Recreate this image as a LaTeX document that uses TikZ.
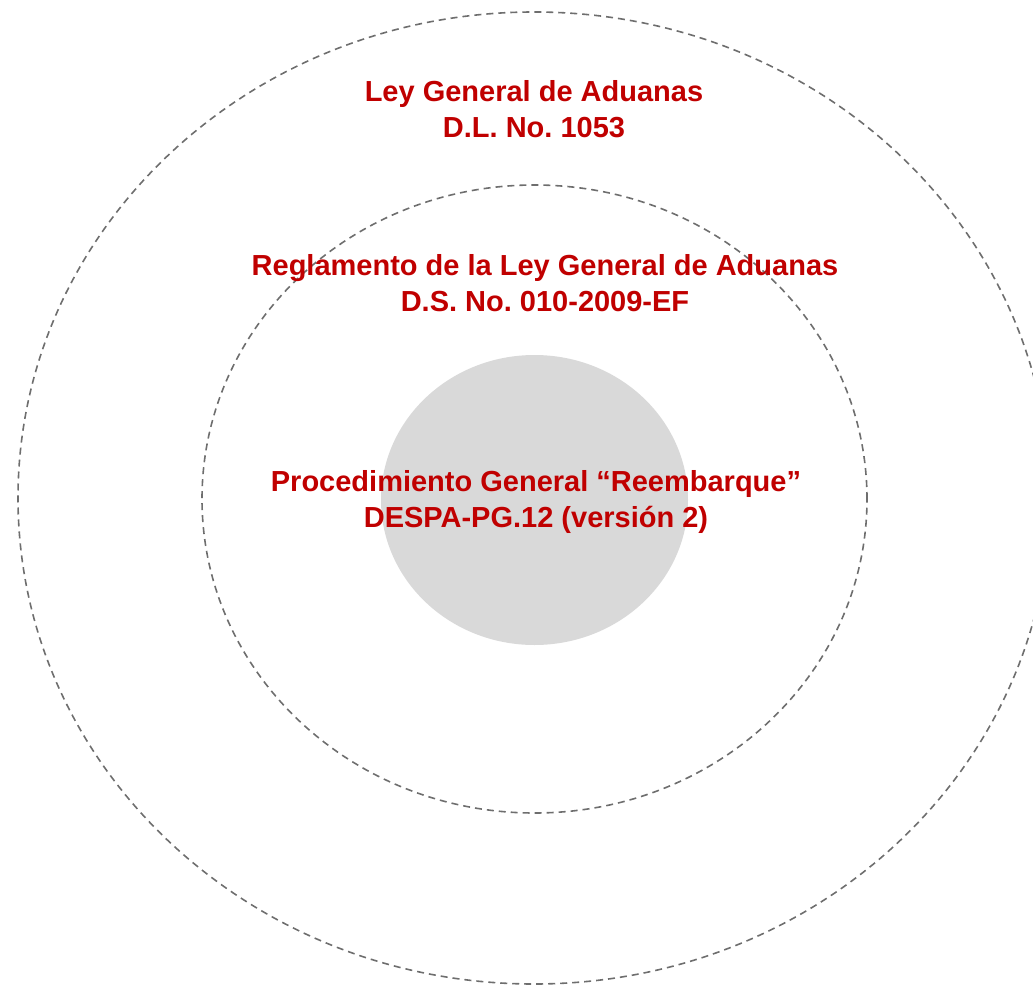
\documentclass[tikz,border=0pt]{standalone}
\usepackage{fontspec}
\setmainfont{Liberation Sans}
\usetikzlibrary{shapes.geometric}
\frenchspacing
\definecolor{lawred}{RGB}{192,0,0}
\definecolor{ringgray}{RGB}{110,110,110}
\definecolor{coregray}{RGB}{217,217,217}
\tikzset{
  ring/.style={ellipse, draw=ringgray, line width=1.6pt, dash pattern=on 7pt off 5pt, inner sep=0pt, outer sep=0pt},
  core/.style={ellipse, fill=coregray, draw=none, inner sep=0pt, outer sep=0pt},
  label/.style={text=lawred, font=\fontsize{29}{36}\selectfont\bfseries, align=center, inner sep=0pt}
}
\begin{document}
\begin{tikzpicture}[x=1pt,y=-1pt]
\useasboundingbox (0,0) rectangle (1033,987);
\node[ring, minimum width=1032pt, minimum height=972pt] (outer) at (534,498) {};
\node[ring, minimum width=665pt, minimum height=628pt] (middle) at (534.5,499) {};
\node[core, minimum width=307pt, minimum height=290pt] (inner) at (534.5,500) {};
\node[label] (t1) at (534,109) {Ley General de Aduanas\\D.L. No. 1053};
\node[label] (t2) at (545,283) {Reglamento de la Ley General de Aduanas\\D.S. No. 010-2009-EF};
\node[label] (t3) at (536,502) {Procedimiento General “Reembarque”\\DESPA-PG.12 (versión 2)};
\end{tikzpicture}
\end{document}
